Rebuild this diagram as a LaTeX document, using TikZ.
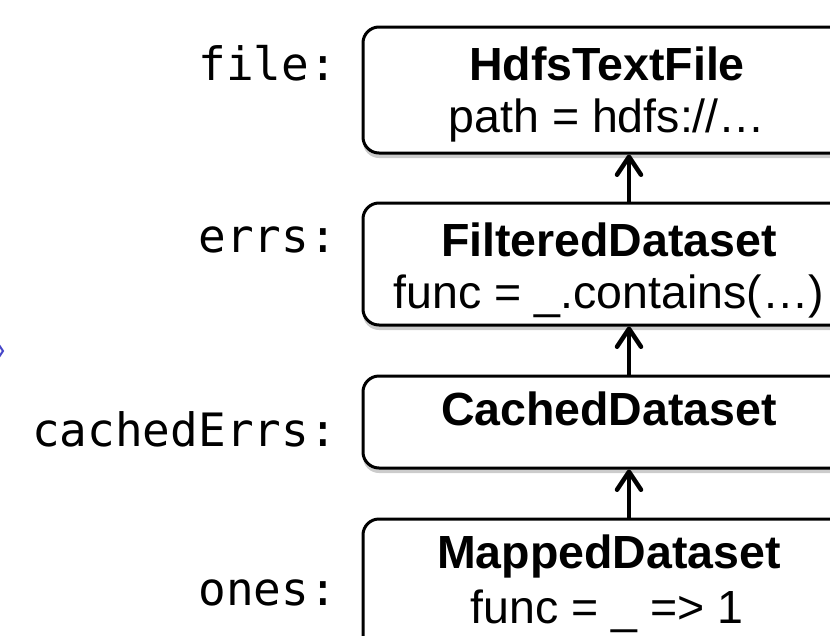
\documentclass[tikz,border=0pt]{standalone}
\usepackage{fontspec}
\setmainfont{Liberation Sans}
\newfontfamily\monofont{DejaVu Sans Mono}
\usetikzlibrary{arrows.meta,shadows}
\definecolor{tipblue}{RGB}{70,70,200}
\tikzset{
 box/.style={draw=black, line width=3pt, rounded corners=16pt, fill=white, minimum width=532pt, inner sep=0pt,
   drop shadow={shadow xshift=0pt, shadow yshift=-5pt, opacity=0.2, fill=black}},
 titletext/.style={anchor=base, font=\fontsize{46.5}{54}\selectfont\bfseries, inner sep=0pt},
 subtext/.style={anchor=base, font=\fontsize{46.5}{54}\selectfont, inner sep=0pt},
 lbl/.style={anchor=base east, font=\fontsize{46}{54}\selectfont\monofont, inner sep=0pt},
 arr/.style={line width=4.5pt, -{Straight Barb[length=18pt,width=24pt,round]}}
}
\begin{document}
\begin{tikzpicture}[x=1pt,y=-1pt]
\useasboundingbox (0,0) rectangle (830,635);
\clip (0,0) rectangle (830,635);
\fill[white] (0,0) rectangle (830,635);

\node[box, minimum height=126pt] (b1) at (629,90) {};
\node[box, minimum height=122pt] (b2) at (629,264) {};
\node[box, minimum height=92pt] (b3) at (629,422) {};
\node[box, minimum height=182pt] (b4) at (629,610) {};

\node[titletext] (t1) at (607,80) {HdfsTextFile};
\node[subtext] (s1) at (607,132) {path = hdfs://…};
\node[titletext] (t2) at (609,256) {FilteredDataset};
\node[subtext] (s2) at (609,308) {func = \_.contains(…)};
\node[titletext] (t3) at (609,425) {CachedDataset};
\node[titletext] (t4) at (609,568) {MappedDataset};
\node[subtext] (s4) at (607,623) {func = \_ => 1};

\node[lbl] (l1) at (337,80) {file:};
\node[lbl] (l2) at (337,252) {errs:};
\node[lbl] (l3) at (337,446) {cachedErrs:};
\node[lbl] (l4) at (337,605) {ones:};

\draw[arr] (b2.north) -- (b1.south);
\draw[arr] (b3.north) -- (b2.south);
\draw[arr] (b4.north) -- (b3.south);

\draw[tipblue, line width=2pt, line cap=round] (-1,345) -- (3,351) -- (-1,357);
\end{tikzpicture}
\end{document}
